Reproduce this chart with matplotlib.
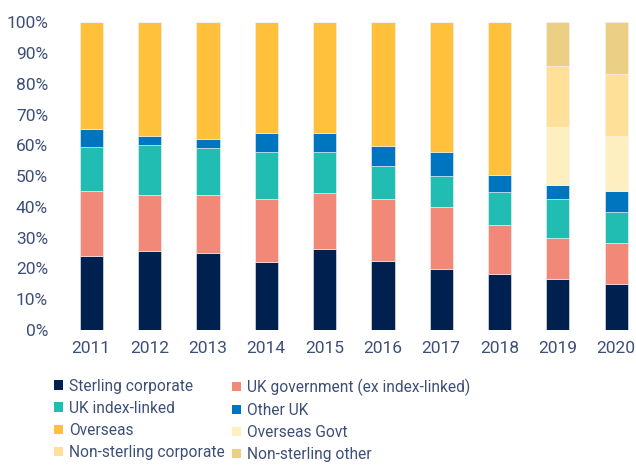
import matplotlib
matplotlib.use("Agg")
from matplotlib import pyplot as plt
from matplotlib.patches import Patch
import numpy as np

years = ["2011", "2012", "2013", "2014", "2015", "2016", "2017", "2018", "2019", "2020"]

sterling_corp = [24.2, 25.8, 25.1, 22.0, 26.2, 22.5, 19.9, 18.3, 16.7, 15.1]
uk_govt = [21.0, 18.0, 18.7, 20.6, 18.4, 20.1, 20.1, 15.8, 13.3, 13.3]
uk_index_linked = [14.4, 16.3, 15.2, 15.3, 13.3, 10.7, 10.1, 10.8, 12.6, 10.0]
other_uk = [5.6, 3.1, 3.1, 6.2, 6.2, 6.6, 7.8, 5.6, 4.5, 6.8]
overseas = [34.8, 36.8, 37.9, 35.9, 35.9, 40.1, 42.1, 49.5, 0, 0]
overseas_govt = [0, 0, 0, 0, 0, 0, 0, 0, 18.9, 18.0]
non_sterling_corp = [0, 0, 0, 0, 0, 0, 0, 0, 19.9, 20.1]
non_sterling_other = [0, 0, 0, 0, 0, 0, 0, 0, 14.1, 16.7]

series = [
    ("Sterling corporate", sterling_corp, "#002050"),
    ("UK government (ex index-linked)", uk_govt, "#F28878"),
    ("UK index-linked", uk_index_linked, "#22BDB2"),
    ("Other UK", other_uk, "#0075BF"),
    ("Overseas", overseas, "#FFC13B"),
    ("Overseas Govt", overseas_govt, "#FDEFC0"),
    ("Non-sterling corporate", non_sterling_corp, "#FFE098"),
    ("Non-sterling other", non_sterling_other, "#EBCF85"),
]

text_col = "#3D4F78"
plt.rcParams["font.family"] = ["Roboto", "DejaVu Sans"]

fig = plt.figure(figsize=(6.36, 4.66), dpi=100)
ax = fig.add_axes([62 / 636, 136 / 466, 574 / 636, 307.7 / 466])

x = np.arange(len(years))
bottom = np.zeros(len(years))
handles = []
for name, vals, col in series:
    vals = np.array(vals, dtype=float)
    ax.bar(x, vals, 0.4, bottom=bottom, color=col, edgecolor="#f4f4f4", linewidth=0.4)
    bottom += vals
    handles.append(Patch(facecolor=col, label=name))

ax.set_xlim(-0.5, 9.34)
ax.set_ylim(0, 100)
ax.set_xticks(x)
ax.set_xticklabels(years)
ax.set_yticks(np.arange(0, 101, 10))
ax.set_yticklabels([f"{v}%" for v in range(0, 101, 10)])
ax.tick_params(length=0, labelsize=12.5, colors=text_col, pad=8)
ax.tick_params(axis="y", pad=10)
for s in ax.spines.values():
    s.set_visible(False)

# legend reads row-wise in the original -> two columns placed separately
cols = [([0, 2, 4, 6], 54), ([1, 3, 5, 7], 232)]
for idx, xpix in cols:
    leg = fig.legend([handles[i] for i in idx], [handles[i].get_label() for i in idx],
                     loc="upper left", bbox_to_anchor=(xpix / 636, 1 - 378.5 / 466),
                     frameon=False, fontsize=11.2, handlelength=0.55, handleheight=0.55,
                     handletextpad=0.4, labelspacing=0.46,
                     borderaxespad=0, borderpad=0)
    for t in leg.get_texts():
        t.set_color(text_col)

fig.savefig("out.png", dpi=100)
